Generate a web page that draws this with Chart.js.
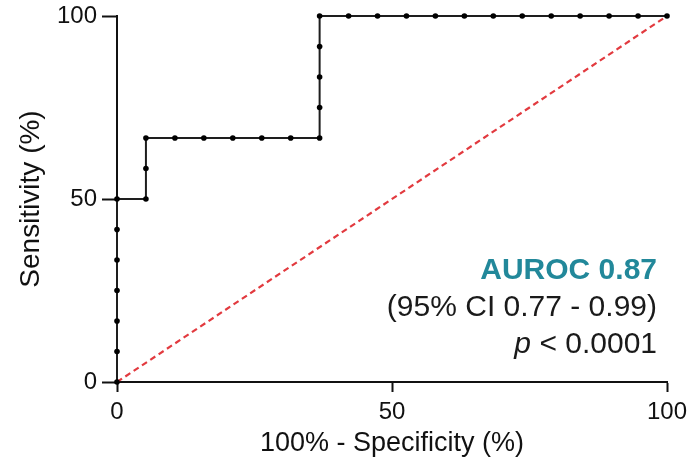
<!DOCTYPE html>
<html>
<head>
<meta charset="utf-8">
<script src="https://cdn.jsdelivr.net/npm/chart.js@4/dist/chart.umd.min.js"></script>
<style>
  html, body { margin: 0; padding: 0; background: #fff; }
  #wrap { width: 689px; height: 468px; }
</style>
</head>
<body>
<div id="wrap"><canvas id="roc-chart" width="689" height="468"></canvas></div>
<script>
// ROC curve: 100% - specificity (x) vs sensitivity (y), both in percent
const fprValues = [0, 0, 0, 0, 0, 0, 0,
  5.26, 5.26, 5.26,
  10.53, 15.79, 21.05, 26.32, 31.58, 36.84,
  36.84, 36.84, 36.84, 36.84,
  42.11, 47.37, 52.63, 57.89, 63.16, 68.42, 73.68, 78.95, 84.21, 89.47, 94.74, 100];
const tprValues = [0, 8.33, 16.67, 25, 33.33, 41.67, 50,
  50, 58.33, 66.67,
  66.67, 66.67, 66.67, 66.67, 66.67, 66.67,
  75, 83.33, 91.67, 100,
  100, 100, 100, 100, 100, 100, 100, 100, 100, 100, 100, 100];

// line of no discrimination
const chanceX = [0, 100];
const chanceY = [0, 100];

const tickValues = [0, 50, 100];

const aurocLabel = 'AUROC 0.87';
const ciLabel = '(95% CI 0.77 - 0.99)';
const pLabel = ['p', ' < 0.0001'];

const FONT = '"Liberation Sans", Arial, Helvetica, sans-serif';

const rocPoints = fprValues.map((x, index) => {
  return { x: x, y: tprValues[index] };
});
const chancePoints = chanceX.map((x, index) => {
  return { x: x, y: chanceY[index] };
});

// text block in the lower right of the plot
const statsText = {
  id: 'statsText',
  afterDraw(chart) {
    const ctx = chart.ctx;
    const right = chart.chartArea.right - 10;
    ctx.save();
    ctx.textAlign = 'right';
    ctx.textBaseline = 'alphabetic';

    ctx.fillStyle = '#22889a';
    ctx.font = 'bold 30px ' + FONT;
    ctx.fillText(aurocLabel, right, 279);

    ctx.fillStyle = '#1a1a1a';
    ctx.font = '30px ' + FONT;
    ctx.fillText(ciLabel, right, 316);

    ctx.fillText(pLabel[1], right, 353);
    const restWidth = ctx.measureText(pLabel[1]).width;
    ctx.font = 'italic 30px ' + FONT;
    ctx.fillText(pLabel[0], right - restWidth, 353);
    ctx.restore();
  }
};

const axisCommon = {
  type: 'linear',
  min: 0,
  max: 100,
  border: { display: true, color: '#111', width: 2 },
  afterBuildTicks: (scale) => {
    scale.ticks = tickValues.map(v => ({ value: v }));
  }
};

const data = {
  datasets: [{
    label: 'ROC',
    data: rocPoints,
    showLine: true,
    borderColor: '#1e1e1e',
    borderWidth: 2,
    pointRadius: 2.8,
    pointBackgroundColor: '#000',
    pointBorderWidth: 0,
    pointHoverRadius: 0,
    clip: false,
    order: 0
  },
  {
    label: 'chance',
    data: chancePoints,
    showLine: true,
    borderColor: '#e23a3f',
    borderWidth: 2.2,
    borderDash: [6, 4],
    pointRadius: 0,
    clip: false,
    order: 1
  }]
};

const config = {
  type: 'scatter',
  data: data,
  options: {
    responsive: false,
    animation: false,
    layout: { padding: { top: 16, right: 22, left: 0, bottom: 0 } },
    plugins: {
      legend: { display: false },
      tooltip: { enabled: false }
    },
    scales: {
      x: Object.assign({}, axisCommon, {
        position: 'bottom',
        grid: {
          drawOnChartArea: false,
          drawTicks: true,
          tickLength: 10,
          tickWidth: 2,
          tickColor: '#111'
        },
        ticks: { color: '#111', padding: 6, maxRotation: 0, font: { family: FONT, size: 24 } },
        title: {
          display: true,
          text: '100% - Specificity (%)',
          color: '#111',
          font: { family: FONT, size: 27 },
          padding: { top: 0, bottom: 8 }
        },
        afterFit: (scale) => {
          scale.height = 86;
          scale.paddingLeft = 0;
          scale.paddingRight = 0;
        }
      }),
      y: Object.assign({}, axisCommon, {
        position: 'left',
        grid: {
          drawOnChartArea: false,
          drawTicks: true,
          tickLength: 15,
          tickWidth: 2,
          tickColor: '#111'
        },
        ticks: { color: '#111', padding: 5, font: { family: FONT, size: 24 } },
        title: {
          display: true,
          text: 'Sensitivity (%)',
          color: '#111',
          font: { family: FONT, size: 28 },
          padding: { top: 14, bottom: 0 }
        },
        afterFit: (scale) => {
          scale.width = 117;
          scale.paddingTop = 0;
          scale.paddingBottom = 0;
        }
      })
    }
  },
  plugins: [statsText]
};

window.onload = function() {
  var ctx = document.getElementById('roc-chart').getContext('2d');
  window.rocChart = new Chart(ctx, config);
};
</script>
</body>
</html>
